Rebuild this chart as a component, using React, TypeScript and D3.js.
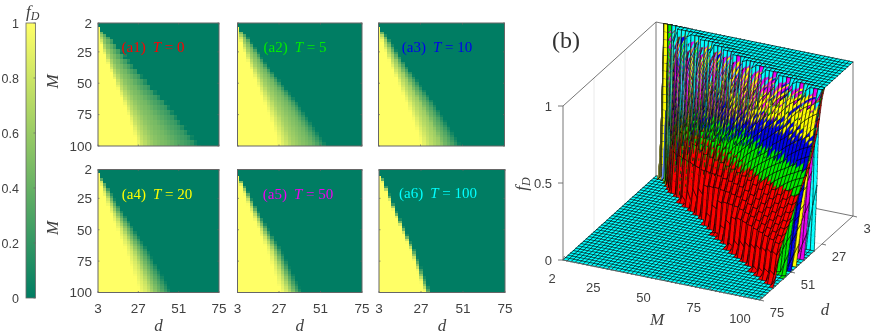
import React from "react";
import * as d3 from "d3";

const WIDTH = 872;
const HEIGHT = 335;

const dValues = d3.range(3, 76, 2);
const mValues = d3.range(2, 101, 2);
const dTicks = [3, 27, 51, 75];
const mTicks = [2, 25, 50, 75, 100];
const cbTicks = [0, 0.2, 0.4, 0.6, 0.8, 1];
const zTicks = [0, 0.5, 1];
const tValues = [0, 5, 10, 20, 50, 100];
const seriesColors = ["#ff0000", "#00ee00", "#0000ee", "#ffff00", "#ee00ee", "#00ffff"];
const panelTags = ["a1", "a2", "a3", "a4", "a5", "a6"];

// d (per row M = 2,4,...,100) at which f_D stops being 1
const yellowT0 = [1,1,3,3,3.2,3.5,3.9,4.3,4.7,5.1,5.6,6.1,6.6,7.1,7.6,8.2,8.7,9.3,9.9,10.5,11.1,11.7,12.3,13,13.6,14.1,14.7,15.3,15.9,16.5,17.1,17.7,18.3,18.8,19.3,19.9,20.4,21,21.6,22,22.4,22.9,23.4,23.9,24.3,24.8,25.2,25.6,25.8,26];
const yellowT5 = [1,1,3,3.2,3.5,3.8,4.2,4.6,5,5.5,6,6.5,7,7.5,8,8.6,9.1,9.7,10.3,10.9,11.5,12.1,12.7,13.4,14,14.5,15.1,15.7,16.3,16.9,17.5,18.1,18.7,19.2,19.7,20.3,20.8,21.4,22,22.4,22.9,23.4,23.9,24.4,24.9,25.4,25.7,26.1,26.3,26.5];
const yellowT10 = [1,1,3,3.3,3.6,4,4.4,4.8,5.3,5.7,6.2,6.7,7.2,7.7,8.3,8.9,9.4,10,10.6,11.2,11.8,12.4,13,13.7,14.3,14.8,15.4,16,16.6,17.2,17.8,18.4,19.1,19.6,20.1,20.7,21.2,21.8,22.4,22.8,23.3,23.8,24.4,24.9,25.4,25.8,26.3,26.6,26.8,27];
const yellowT20 = [1,1,3,3.5,3.8,4.2,4.6,5,5.5,6,6.5,7,7.5,8,8.6,9.2,9.7,10.3,10.9,11.5,12.1,12.7,13.3,14,14.6,15.1,15.7,16.3,16.9,17.5,18.2,18.8,19.3,19.9,20.3,20.9,21.3,21.9,22.4,22.8,23.4,23.9,24.4,24.9,25.4,25.9,26.4,26.8,27.2,27.6];
const yellowT50 = [1,1,1,3,3.5,4,4.6,5.1,5.7,6.2,6.8,7.3,7.8,8.4,8.9,9.5,10,10.6,11.2,11.8,12.5,13.1,13.7,14.4,15,15.6,16.2,16.9,17.5,18.1,18.8,19.4,20,20.5,20.9,21.4,21.8,22.3,22.8,23.2,23.7,24.1,24.6,25.1,25.5,26,26.5,27,27.5,28];
const yellowT100 = [1,1,1,3.7,4.2,4.7,5.3,5.8,6.4,6.9,7.5,8,8.5,9.1,9.6,10.2,10.7,11.3,11.9,12.5,13.2,13.8,14.4,15.1,15.7,16.3,16.9,17.6,18.2,18.8,19.5,20.1,20.7,21.2,21.6,22.1,22.5,23,23.5,23.9,24.4,24.8,25.3,25.8,26.2,26.7,27.2,27.7,28.2,28.7];

// d (per row) at which f_D reaches 0
const zeroT0 = [1,1,3,4.2,6.5,8.8,10.6,12.6,12.1,14.9,14.5,17.2,16.8,19.6,19.1,21.9,21.5,24.2,23.9,26.9,26.6,29.6,29.4,32.4,32.2,35.1,34.9,37.9,37.7,40.7,40.4,43.4,43.2,46,45.6,48.4,47.9,50.7,50.3,53,52.6,55.4,55,57.7,57.3,60.1,59.7,62.4,62,64];
const zeroT5 = [1,1,3,4.1,6,7.8,9.3,10.3,11.2,12.3,13.4,14.3,15.4,16.4,17.3,18.4,19.4,20.4,21.5,22.8,23.9,25.1,26.3,27.5,28.7,29.9,31.1,32.3,33.5,34.7,35.8,37,38.2,39.2,40.2,41.2,42.2,43.2,44.2,45.2,46.2,47.2,48.2,49.1,50.1,51.1,52.1,53.1,54.1,55.1];
const zeroT10 = [1,1,3,4.1,5.7,7.3,8.6,9.5,10.5,11.4,12.3,13.2,14.1,15.1,16,17,18,18.9,19.9,21,22.1,23.2,24.3,25.4,26.5,27.5,28.6,29.7,30.8,31.9,32.9,34,35.2,36.1,37,38,38.8,39.7,40.7,41.5,42.4,43.3,44.3,45.2,46.1,47,47.9,48.7,49.6,50.6];
const zeroT20 = [1,1,3,4.1,5.5,7,8.1,8.9,9.8,10.7,11.6,12.4,13.3,14.1,15.1,16,16.8,17.7,18.7,19.7,20.7,21.7,22.7,23.8,24.8,25.7,26.7,27.7,28.8,29.8,30.8,31.8,32.9,33.7,34.5,35.4,36.2,37,37.9,38.7,39.6,40.4,41.3,42.1,42.9,43.7,44.6,45.3,46.1,47];
const zeroT50 = [1,1,3,3.4,4.6,5.7,6.8,7.6,8.4,9.2,10,10.7,11.4,12.3,13,13.8,14.5,15.3,16.1,16.9,17.9,18.7,19.6,20.5,21.4,22.3,23.1,24.1,25,25.8,26.8,27.7,28.6,29.3,30,30.7,31.3,32.1,32.8,33.4,34.2,34.9,35.6,36.4,37,37.8,38.5,39.3,40.1,40.9];
const zeroT100 = [1,1,3,4.8,5.5,6.1,6.8,7.4,8,8.6,9.2,9.7,10.3,10.9,11.4,12.1,12.6,13.3,13.9,14.5,15.3,16,16.6,17.3,18,18.7,19.3,20.1,20.7,21.4,22.2,22.8,23.5,24.1,24.6,25.1,25.6,26.2,26.7,27.2,27.8,28.3,28.9,29.4,29.9,30.5,31.1,31.6,32.2,32.7];

// f_D across the transition between those two edges (11 even steps)
const profileT0 = [1,0.78,0.66,0.56,0.5,0.46,0.39,0.32,0.26,0.2,0];
const profileT5 = [1,0.88,0.77,0.66,0.6,0.54,0.49,0.43,0.32,0.18,0];
const profileT10 = [1,0.9,0.8,0.72,0.66,0.6,0.46,0.38,0.28,0.15,0];
const profileT20 = [1,0.92,0.86,0.78,0.66,0.55,0.45,0.35,0.25,0.13,0];
const profileT50 = [1,0.94,0.88,0.8,0.7,0.58,0.46,0.34,0.22,0.1,0];
const profileT100 = [1,0.97,0.93,0.8,0.66,0.5,0.38,0.28,0.18,0.08,0];

const yellowEdges = [yellowT0, yellowT5, yellowT10, yellowT20, yellowT50, yellowT100];
const zeroEdges = [zeroT0, zeroT5, zeroT10, zeroT20, zeroT50, zeroT100];
const profiles = [profileT0, profileT5, profileT10, profileT20, profileT50, profileT100];

function fD(k: number, row: number, d: number) {
  const y = yellowEdges[k][row];
  const z = zeroEdges[k][row];
  if (d <= y) return 1;
  if (d >= z) return 0;
  const t = ((d - y) / (z - y)) * 10;
  const i = Math.min(9, Math.floor(t));
  const p = profiles[k];
  return p[i] + (p[i + 1] - p[i]) * (t - i);
}

const summer = d3.scaleLinear<string>().domain([0, 1]).range(["#007d63", "#ffff66"]).interpolate(d3.interpolateRgb);

const SANS = "'Liberation Sans', Arial, sans-serif";
const SERIF = "'Liberation Serif', 'Times New Roman', serif";
const AXIS = "#666666";
const TEXT = "#404040";

const panelRects = [
  { x0: 98, x1: 219, y0: 23, y1: 146 },
  { x0: 237.5, x1: 362, y0: 23, y1: 146 },
  { x0: 378.5, x1: 504.5, y0: 23, y1: 146 },
  { x0: 98, x1: 219, y0: 169.5, y1: 292.5 },
  { x0: 237.5, x1: 362, y0: 169.5, y1: 292.5 },
  { x0: 379, x1: 505, y0: 169.5, y1: 292.5 },
];
const tagCenters = [[153, 47], [295, 47], [437, 47], [157, 194], [298, 194], [438, 193]];

function Panel({ k }: { k: number }) {
  const r = panelRects[k];
  const x = d3.scaleLinear().domain([3, 75]).range([r.x0, r.x1]);
  const y = d3.scaleLinear().domain([2, 100]).range([r.y0, r.y1]);
  const clampD = (v: number) => Math.max(3, Math.min(75, v));
  const clampM = (v: number) => Math.max(2, Math.min(100, v));
  const firstCol = k === 0 || k === 3;
  const bottomRow = k >= 3;
  return (
    <g>
      <g shapeRendering="crispEdges">
        {mValues.map((m, row) =>
          dValues.map((d) => {
            const xa = x(clampD(d - 1));
            const xb = x(clampD(d + 1));
            const ya = y(clampM(m - 1));
            const yb = y(clampM(m + 1));
            return (
              <rect key={`${m}-${d}`} x={xa} y={ya} width={xb - xa + 0.4} height={yb - ya + 0.4} fill={summer(fD(k, row, d))} />
            );
          })
        )}
      </g>
      <rect x={r.x0} y={r.y0} width={r.x1 - r.x0} height={r.y1 - r.y0} fill="none" stroke={AXIS} strokeWidth={1} />
      {dTicks.map((t) => (
        <g key={t} stroke={AXIS} strokeWidth={0.7}>
          <line x1={x(t)} x2={x(t)} y1={r.y1} y2={r.y1 - 1.5} />
          <line x1={x(t)} x2={x(t)} y1={r.y0} y2={r.y0 + 1.5} />
        </g>
      ))}
      {mTicks.map((t) => (
        <g key={t} stroke={AXIS} strokeWidth={0.7}>
          <line x1={r.x0} x2={r.x0 + 1.5} y1={y(t)} y2={y(t)} />
          <line x1={r.x1} x2={r.x1 - 1.5} y1={y(t)} y2={y(t)} />
        </g>
      ))}
      {firstCol &&
        mTicks.map((t) => (
          <text key={t} x={r.x0 - 6} y={y(t)} dy="0.36em" textAnchor="end" fontFamily={SANS} fontSize={13.5} fill={TEXT}>{t}</text>
        ))}
      {firstCol && (
        <text transform={`translate(58,${(r.y0 + r.y1) / 2 - 3}) rotate(-90)`} textAnchor="middle" fontFamily={SERIF} fontStyle="italic" fontSize={17} fill={TEXT}>M</text>
      )}
      {bottomRow &&
        dTicks.map((t) => (
          <text key={t} x={x(t)} y={313} textAnchor="middle" fontFamily={SANS} fontSize={13.5} fill={TEXT}>{t}</text>
        ))}
      {bottomRow && (
        <text x={(r.x0 + r.x1) / 2} y={331} textAnchor="middle" fontFamily={SERIF} fontStyle="italic" fontSize={17} fill={TEXT}>d</text>
      )}
      <text x={tagCenters[k][0]} y={tagCenters[k][1] + 5} textAnchor="middle" fontFamily={SERIF} fontSize={15} fill={seriesColors[k]}>
        ({panelTags[k]})<tspan dx={7} fontStyle="italic">T</tspan> = {tValues[k]}
      </text>
    </g>
  );
}

function Colorbar() {
  const x0 = 26, x1 = 35.5;
  const y = d3.scaleLinear().domain([0, 1]).range([298, 23]);
  const stops = d3.range(0, 1.001, 0.1);
  return (
    <g>
      <defs>
        <linearGradient id="cb" x1="0" x2="0" y1="1" y2="0">
          {stops.map((s) => (
            <stop key={s} offset={s} stopColor={summer(s)} />
          ))}
        </linearGradient>
      </defs>
      <rect x={x0} y={y(1)} width={x1 - x0} height={y(0) - y(1)} fill="url(#cb)" stroke={AXIS} strokeWidth={0.8} />
      {cbTicks.map((t) => (
        <g key={t}>
          <line x1={x1} x2={x1 - 2} y1={y(t)} y2={y(t)} stroke={AXIS} strokeWidth={0.7} />
          <text x={19} y={y(t)} dy="0.36em" textAnchor="end" fontFamily={SANS} fontSize={12.5} fill={TEXT}>{t}</text>
        </g>
      ))}
      <text x={26} y={17} fontFamily={SERIF} fontStyle="italic" fontSize={17} fill={TEXT}>
        f<tspan dy={3} fontSize={12}>D</tspan>
      </text>
    </g>
  );
}

// oblique projection of the 3-D box of panel (b)
const origin = [563, 260];
const mAxisVec = [197, 40];
const dAxisVec = [93, -84];
const zAxisLen = 154;
const mNorm = d3.scaleLinear().domain([2, 100]).range([0, 1]);
const dNorm = d3.scaleLinear().domain([75, 3]).range([0, 1]);
const project = (m: number, d: number, z: number): [number, number] => {
  const a = mNorm(m), b = dNorm(d);
  return [origin[0] + mAxisVec[0] * a + dAxisVec[0] * b, origin[1] + mAxisVec[1] * a + dAxisVec[1] * b - zAxisLen * z];
};
const depth = (m: number, d: number, z: number) => -93 * mNorm(m) + 197 * dNorm(d) - 131.6 * z;

type V3 = [number, number, number];
const lerp3 = (a: V3, b: V3, s: number): V3 => [a[0] + (b[0] - a[0]) * s, a[1] + (b[1] - a[1]) * s, a[2] + (b[2] - a[2]) * s];

function Surface3D() {
  const line = d3.line();
  const p2 = (v: V3) => project(v[0], v[1], v[2]);
  const pieces: { key: string; fill: string; mesh: string; color: string; depth: number; row: number; k: number }[] = [];
  const lastK = tValues.length - 1;
  tValues.forEach((_, k) => {
    for (let row = 0; row < mValues.length - 1; row++) {
      for (let col = 0; col < dValues.length - 1; col++) {
        const c0: V3 = [mValues[row], dValues[col], fD(k, row, dValues[col])];
        const c1: V3 = [mValues[row + 1], dValues[col], fD(k, row + 1, dValues[col])];
        const c2: V3 = [mValues[row + 1], dValues[col + 1], fD(k, row + 1, dValues[col + 1])];
        const c3: V3 = [mValues[row], dValues[col + 1], fD(k, row, dValues[col + 1])];
        const zs = [c0[2], c1[2], c2[2], c3[2]];
        const flat = zs.every((v) => v === 0) || zs.every((v) => v === 1);
        if (flat && k !== lastK) continue;
        const n = flat ? 1 : Math.max(1, Math.ceil(Math.max(Math.abs(c0[2] - c3[2]), Math.abs(c1[2] - c2[2])) / 0.05));
        for (let i = 0; i < n; i++) {
          const s0 = i / n, s1 = (i + 1) / n;
          const L0 = lerp3(c0, c3, s0), L1 = lerp3(c0, c3, s1), R0 = lerp3(c1, c2, s0), R1 = lerp3(c1, c2, s1);
          const fill = line([p2(L0), p2(R0), p2(R1), p2(L1)]) + "Z";
          let mesh = (line([p2(L0), p2(L1)]) as string) + (line([p2(R0), p2(R1)]) as string);
          if (i === 0) mesh += line([p2(L0), p2(R0)]);
          if (i === n - 1) mesh += line([p2(L1), p2(R1)]);
          const center = lerp3(lerp3(L0, R1, 0.5), lerp3(L1, R0, 0.5), 0.5);
          pieces.push({ key: `${k}-${row}-${col}-${i}`, fill, mesh, color: seriesColors[k], depth: depth(center[0], center[1], center[2]), row, k });
        }
      }
    }
  });
  pieces.sort((a, b) => a.row - b.row || b.depth - a.depth || a.k - b.k);
  return (
    <g strokeLinecap="round">
      {pieces.map((q) => (
        <g key={q.key}>
          <path d={q.fill} fill={q.color} stroke={q.color} strokeWidth={0.25} />
          <path d={q.mesh} fill="none" stroke="#000" strokeWidth={0.55} />
        </g>
      ))}
    </g>
  );
}

function Panel3D() {
  const seg = (a: [number, number], b: [number, number], key: string, color = AXIS, w = 0.9) => (
    <line key={key} x1={a[0]} y1={a[1]} x2={b[0]} y2={b[1]} stroke={color} strokeWidth={w} />
  );
  const lab = (p: [number, number], dx: number, dy: number, s: string | number, size = 13) => (
    <text key={`l${s}-${p[0]}`} x={p[0] + dx} y={p[1] + dy} dy="0.36em" textAnchor="middle" fontFamily={SANS} fontSize={size} fill={TEXT}>{s}</text>
  );
  const GRID = "#e4e4e4";
  return (
    <g>
      {dTicks.slice(1, 3).map((t) => seg(project(2, t, 0), project(2, t, 1), `gd${t}`, GRID, 0.8))}
      {mTicks.slice(1, 4).map((t) => seg(project(t, 3, 0), project(t, 3, 1), `gm${t}`, GRID, 0.8))}
      {mTicks.slice(1, 4).map((t) => seg(project(t, 3, 0), project(t, 75, 0), `fm${t}`, GRID, 0.8))}
      {dTicks.slice(1, 3).map((t) => seg(project(2, t, 0), project(100, t, 0), `fd${t}`, GRID, 0.8))}
      {seg(project(2, 3, 0), project(2, 3, 1), "e1")}
      {seg(project(100, 3, 0), project(100, 3, 1), "e2")}
      {seg(project(2, 3, 1), project(100, 3, 1), "e3")}
      {seg(project(2, 75, 1), project(2, 3, 1), "e4")}
      {seg(project(2, 3, 0), project(100, 3, 0), "e5")}
      {seg(project(2, 75, 0), project(2, 3, 0), "e6")}
      {seg(project(2, 75, 0), project(2, 75, 1), "e7")}
      <Surface3D />
      {seg(project(2, 75, 0), project(100, 75, 0), "e8")}
      {seg(project(100, 75, 0), project(100, 3, 0), "e9")}
      {zTicks.map((t) => {
        const p = project(2, 75, t);
        return (
          <g key={t}>
            {seg(p, [p[0] - 5, p[1]], `tz${t}`)}
            <text x={p[0] - 11} y={p[1]} dy="0.36em" textAnchor="end" fontFamily={SANS} fontSize={13} fill={TEXT}>{t}</text>
          </g>
        );
      })}
      {mTicks.map((t) => {
        const p = project(t, 75, 0);
        const shift = t === 2 ? -11 : t === 100 ? -20 : -16;
        return (
          <g key={t}>
            {seg(p, [p[0] + 1.5, p[1] - 4], `tm${t}`)}
            {lab(p, shift, 18, t)}
          </g>
        );
      })}
      {dTicks.map((t) => {
        const p = project(100, t, 0);
        return (
          <g key={t}>
            {seg(p, [p[0] + 4, p[1] + 1], `td${t}`)}
            {lab(p, t === 3 ? 14 : 17, 12, t)}
          </g>
        );
      })}
      <text x={657} y={325} textAnchor="middle" fontFamily={SERIF} fontStyle="italic" fontSize={17} fill={TEXT}>M</text>
      <text x={825} y={315} textAnchor="middle" fontFamily={SERIF} fontStyle="italic" fontSize={17} fill={TEXT}>d</text>
      <text transform="translate(527,184) rotate(-90)" textAnchor="middle" fontFamily={SERIF} fontStyle="italic" fontSize={17} fill={TEXT}>
        f<tspan dy={3} fontSize={12}>D</tspan>
      </text>
      <text x={552} y={48} fontFamily={SERIF} fontSize={24} fill="#333">(b)</text>
    </g>
  );
}

export default function App() {
  return (
    <svg width={WIDTH} height={HEIGHT} viewBox={`0 0 ${WIDTH} ${HEIGHT}`} style={{ position: "absolute", left: 0, top: 0, background: "#fff", filter: "blur(0.4px)" }}>
      <Colorbar />
      {panelRects.map((_, k) => (
        <Panel key={k} k={k} />
      ))}
      <Panel3D />
    </svg>
  );
}
